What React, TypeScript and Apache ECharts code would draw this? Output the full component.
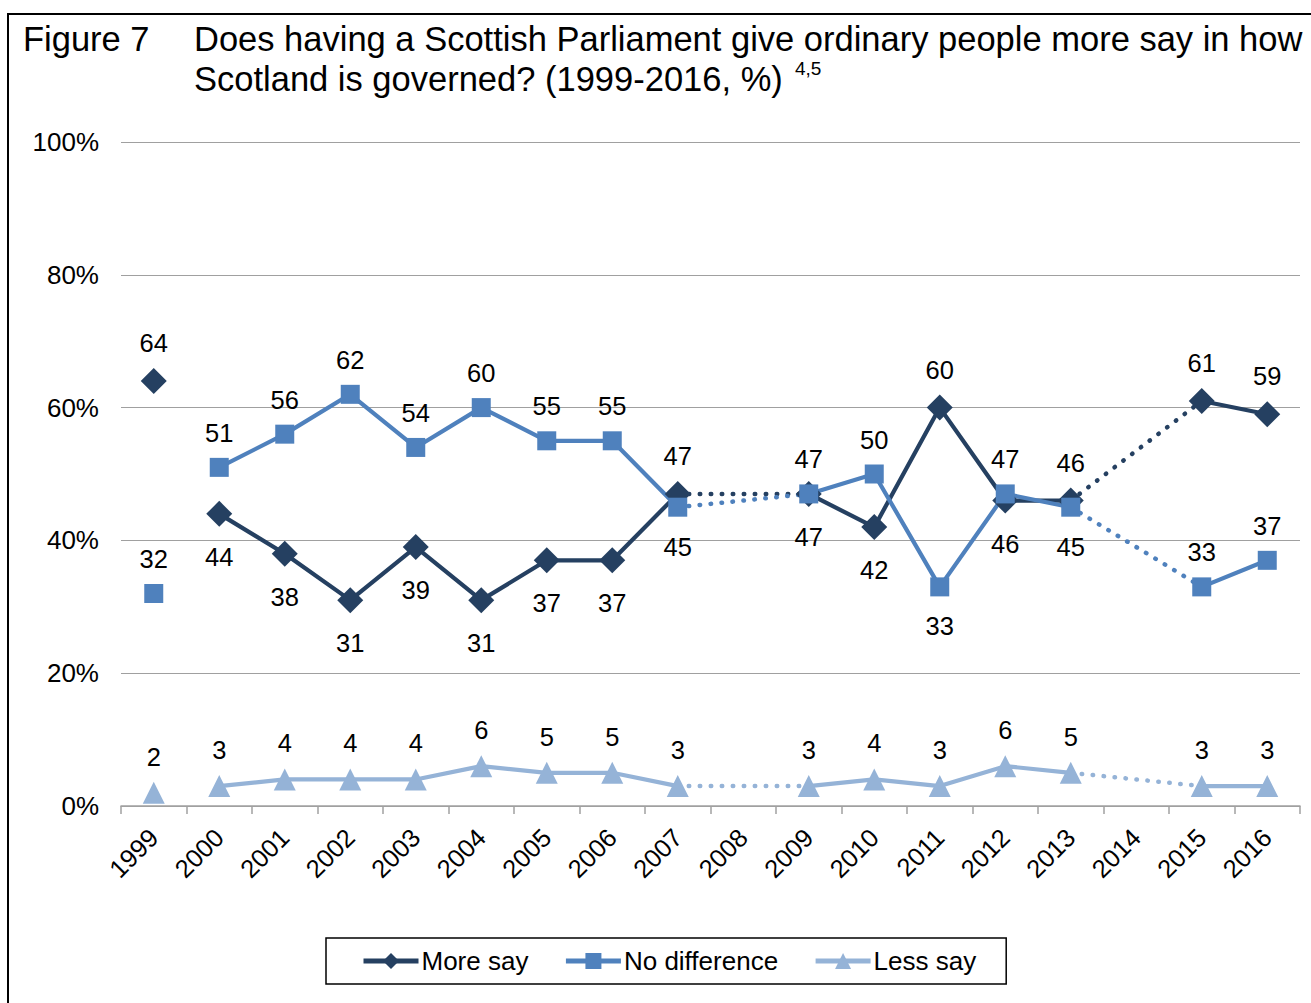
import React, { useEffect, useRef } from "react";
import * as echarts from "echarts";

// ---------- data ----------
const years = ["1999", "2000", "2001", "2002", "2003", "2004", "2005", "2006", "2007", "2008", "2009", "2010", "2011", "2012", "2013", "2014", "2015", "2016"];
const moreSay: (number | null)[] = [64, 44, 38, 31, 39, 31, 37, 37, 47, null, 47, 42, 60, 46, 46, null, 61, 59];
const noDifference: (number | null)[] = [32, 51, 56, 62, 54, 60, 55, 55, 45, null, 47, 50, 33, 47, 45, null, 33, 37];
const lessSay: (number | null)[] = [2, 3, 4, 4, 4, 6, 5, 5, 3, null, 3, 4, 3, 6, 5, null, 3, 3];

const moreSayLabelPos = ["top", "bottom", "bottom", "bottom", "bottom", "bottom", "bottom", "bottom", "top", "top", "bottom", "bottom", "top", "bottom", "top", "top", "top", "top"];
const noDifferenceLabelPos = ["top", "top", "top", "top", "top", "top", "top", "top", "bottom", "top", "top", "top", "bottom", "top", "bottom", "top", "top", "top"];
const lessSayLabelPos = ["top", "top", "top", "top", "top", "top", "top", "top", "top", "top", "top", "top", "top", "top", "top", "top", "top", "top"];

const seriesNames = ["More say", "No difference", "Less say"];
const yMin = 0;
const yMax = 100;
const yInterval = 20;

const figureLabel = "Figure 7";
const titleLines = [
  "Does having a Scottish Parliament give ordinary people more say in how",
  "Scotland is governed? (1999-2016, %)",
];
const titleNote = "4,5";

// ---------- style ----------
const FONT = '"Liberation Sans", Arial, sans-serif';
const colors = ["#254061", "#4F81BD", "#95B3D7"];
const symbols = ["diamond", "rect", "triangle"];
const symbolSizes = [26, 19, 22];

function labelItem(v: number, pos: string) {
  return {
    value: v,
    label: { position: pos, distance: pos === "top" ? 12 : 17 },
  };
}

function buildSeries(
  name: string,
  vals: (number | null)[],
  pos: string[],
  color: string,
  symbol: string,
  size: number
) {
  const gaps: number[] = [];
  vals.forEach((v, i) => {
    if (v == null && i > 0 && i < vals.length - 1) gaps.push(i);
  });
  const labelCommon = {
    show: true,
    color: "#000",
    fontSize: 25.5,
    fontFamily: FONT,
    formatter: "{c}",
  };
  const base = {
    type: "line",
    symbol,
    symbolSize: size,
    showSymbol: true,
    showAllSymbol: true,
    itemStyle: { color },
    lineStyle: { color, width: 4.2 },
    emphasis: { disabled: true },
    silent: true,
  };
  const solid = {
    ...base,
    name,
    connectNulls: false,
    label: labelCommon,
    data: vals.map((v, i) => (i === 0 || v == null ? "-" : labelItem(v, pos[i]))),
    z: 3,
  };
  const first = {
    ...base,
    name,
    connectNulls: false,
    label: labelCommon,
    data: vals.map((v, i) => (i === 0 && v != null ? labelItem(v, pos[i]) : "-")),
    z: 3,
  };
  const dotted = gaps.map((g, k) => ({
    type: "line",
    name: name + " gap " + k,
    connectNulls: true,
    showSymbol: false,
    symbol: "none",
    silent: true,
    emphasis: { disabled: true },
    lineStyle: { color, width: 4.5, type: [0.5, 10.5], cap: "round" },
    itemStyle: { color },
    data: vals.map((v, i) => (i === g - 1 || i === g + 1 ? v : "-")),
    z: 2,
  }));
  return { main: [solid, first], dotted };
}

export default function App() {
  const ref = useRef<HTMLDivElement>(null);

  useEffect(() => {
    if (!ref.current) return;
    const chart = echarts.init(ref.current, null, { renderer: "svg" });

    const groups = [
      buildSeries(seriesNames[0], moreSay, moreSayLabelPos, colors[0], symbols[0], symbolSizes[0]),
      buildSeries(seriesNames[1], noDifference, noDifferenceLabelPos, colors[1], symbols[1], symbolSizes[1]),
      buildSeries(seriesNames[2], lessSay, lessSayLabelPos, colors[2], symbols[2], symbolSizes[2]),
    ];
    const series: any[] = [];
    groups.forEach((g) => series.push(...g.dotted));
    groups.forEach((g) => series.push(...g.main));

    chart.setOption({
      animation: false,
      backgroundColor: "#fff",
      textStyle: { fontFamily: FONT },
      grid: { left: 121, right: 11, top: 142, bottom: 197, containLabel: false },
      graphic: [
        {
          type: "rect",
          shape: { x: 8, y: 14, width: 1400, height: 1100 },
          style: { fill: "none", stroke: "#000", lineWidth: 2 },
          silent: true,
          z: -10,
        },
        {
          type: "text",
          x: 23,
          y: 39,
          style: { text: figureLabel, font: `34.5px ${FONT}`, fill: "#000", verticalAlign: "middle", align: "left" },
        },
        {
          type: "text",
          x: 194,
          y: 39,
          style: { text: titleLines[0], font: `34.5px ${FONT}`, fill: "#000", verticalAlign: "middle", align: "left" },
        },
        {
          type: "text",
          x: 194,
          y: 79,
          style: { text: titleLines[1], font: `34.5px ${FONT}`, fill: "#000", verticalAlign: "middle", align: "left" },
        },
        {
          type: "text",
          x: 795,
          y: 68,
          style: { text: titleNote, font: `19px ${FONT}`, fill: "#000", verticalAlign: "middle", align: "left" },
        },
      ],
      legend: {
        data: seriesNames,
        left: 326,
        top: 938,
        orient: "horizontal",
        borderColor: "#000",
        borderWidth: 1.5,
        padding: [10, 30, 10, 35],
        itemGap: 35,
        itemWidth: 55,
        itemHeight: 20,
        lineStyle: { width: 5 },
        textStyle: { fontSize: 26, color: "#000", fontFamily: FONT, padding: [0, 0, 0, -2] },
        selectedMode: false,
      },
      xAxis: {
        type: "category",
        data: years,
        boundaryGap: true,
        axisLine: { show: true, lineStyle: { color: "#A0A0A0", width: 1.5 } },
        axisTick: { show: true, alignWithLabel: false, length: 8, lineStyle: { color: "#A0A0A0", width: 1.5 } },
        axisLabel: { rotate: 45, fontSize: 25.5, color: "#000", fontFamily: FONT, margin: 27, interval: 0 },
        splitLine: { show: false },
      },
      yAxis: {
        type: "value",
        min: yMin,
        max: yMax,
        interval: yInterval,
        axisLine: { show: false },
        axisTick: { show: false },
        axisLabel: { formatter: "{value}%", fontSize: 26, color: "#000", fontFamily: FONT, margin: 22 },
        splitLine: { show: true, lineStyle: { color: "#A0A0A0", width: 1.2 } },
      },
      series,
    });

    return () => {
      chart.dispose();
    };
  }, []);

  return (
    <div
      ref={ref}
      style={{ position: "absolute", left: 0, top: 0, width: 1311, height: 1003, background: "#fff" }}
    />
  );
}
